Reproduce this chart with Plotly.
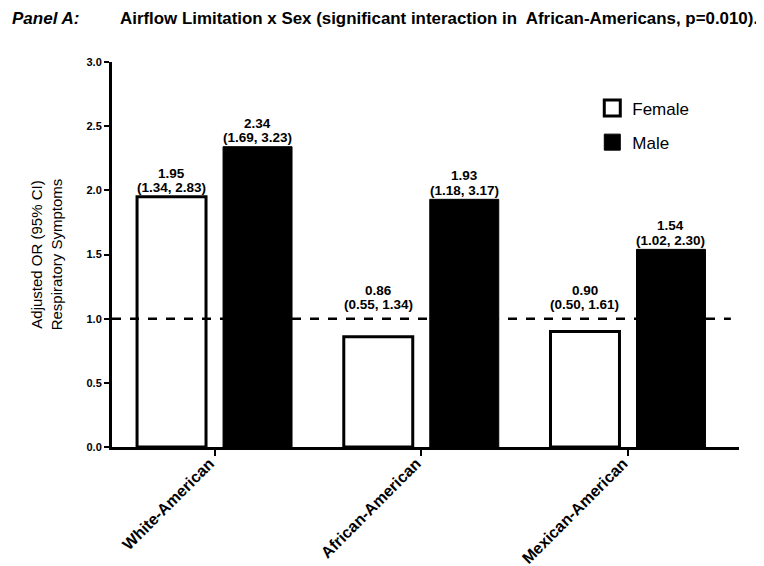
import plotly.graph_objects as go

categories = ["White-American", "African-American", "Mexican-American"]
female_or = [1.95, 0.86, 0.90]
female_ci = ["(1.34, 2.83)", "(0.55, 1.34)", "(0.50, 1.61)"]
male_or = [2.34, 1.93, 1.54]
male_ci = ["(1.69, 3.23)", "(1.18, 3.17)", "(1.02, 2.30)"]
y_ticks = [0.0, 0.5, 1.0, 1.5, 2.0, 2.5, 3.0]
reference_line = 1.0

fig = go.Figure()
fig.add_trace(go.Bar(
    name="Female", x=categories, y=female_or,
    marker=dict(color="white", line=dict(color="black", width=3)),
    showlegend=False, hoverinfo="y",
))
fig.add_trace(go.Bar(
    name="Male", x=categories, y=male_or,
    marker=dict(color="black", line=dict(color="black", width=1)),
    showlegend=False, hoverinfo="y",
))
# legend entries (larger square swatches)
fig.add_trace(go.Scatter(
    name="Female", x=[None], y=[None], mode="markers",
    marker=dict(symbol="square", size=16, color="white", line=dict(color="black", width=3)),
    legendgroup="f",
))
fig.add_trace(go.Scatter(
    name="Male", x=[None], y=[None], mode="markers",
    marker=dict(symbol="square", size=16, color="black", line=dict(color="black", width=1)),
    legendgroup="m",
))

# value / CI labels above each bar (kept above the reference line)
slot = 0.208
lab_font = dict(size=13.5, color="black", family="Liberation Sans")
for vals, cis, side in ((female_or, female_ci, -1), (male_or, male_ci, 1)):
    for i, (v, c) in enumerate(zip(vals, cis)):
        base = max(v, reference_line + 0.04)
        fig.add_annotation(x=i + side * slot, y=base, xref="x", yref="y",
                           text=f"<b>{c}</b>", showarrow=False,
                           yanchor="middle", yshift=9, font=lab_font)
        fig.add_annotation(x=i + side * slot, y=base, xref="x", yref="y",
                           text=f"<b>{v:.2f}</b>", showarrow=False,
                           yanchor="middle", yshift=23.5, font=lab_font)

fig.add_shape(type="line", xref="paper", yref="y", x0=0, x1=0.987,
              y0=reference_line, y1=reference_line,
              line=dict(color="black", width=2.5, dash="dash"))

fig.add_annotation(xref="paper", yref="paper", x=-0.163, y=1.114,
                   xanchor="left", yanchor="middle", showarrow=False,
                   text="<b><i>Panel A:</i></b>",
                   font=dict(size=17, color="black", family="Liberation Sans"))
fig.add_annotation(xref="paper", yref="paper", x=0.0096, y=1.114,
                   xanchor="left", yanchor="middle", showarrow=False,
                   text="<b>Airflow Limitation x Sex (significant interaction in  African-Americans, p=0.010).</b>",
                   font=dict(size=16.9, color="black", family="Liberation Sans"))

fig.update_layout(
    width=756, height=558,
    margin=dict(l=104, r=25, t=54, b=119),
    plot_bgcolor="white", paper_bgcolor="white",
    barmode="group", bargap=0.168, bargroupgap=0.198,
    font=dict(family="Liberation Sans", color="black"),
    showlegend=True,
    legend=dict(x=0.766, y=0.926, xanchor="left", yanchor="top",
                font=dict(size=17, color="black"), tracegroupgap=9,
                traceorder="grouped", bgcolor="rgba(0,0,0,0)", itemsizing="trace"),
    xaxis=dict(range=[-0.496, 2.537], showline=True, linecolor="black", linewidth=3,
               ticks="outside", ticklen=6, tickwidth=2, tickcolor="black",
               tickangle=-45, tickfont=dict(size=16, color="black"),
               ticklabelstandoff=-8, ticklabelshift=-5,
               tickvals=categories, ticktext=[f"<b>{c}</b>" for c in categories],
               showgrid=False, zeroline=False, automargin=False),
    yaxis=dict(range=[0, 3], showline=True, linecolor="black", linewidth=3,
               ticks="outside", ticklen=5, tickwidth=2, tickcolor="black",
               tickvals=y_ticks, ticktext=[f"<b>{t:.1f}</b>" for t in y_ticks],
               tickfont=dict(size=11, color="black"),
               showgrid=False, zeroline=False, automargin=False,
               title=dict(text="Adjusted OR (95% CI)<br>Respiratory Symptoms",
                          font=dict(size=15, color="black"), standoff=21)),
)

fig.write_html("out.html")
